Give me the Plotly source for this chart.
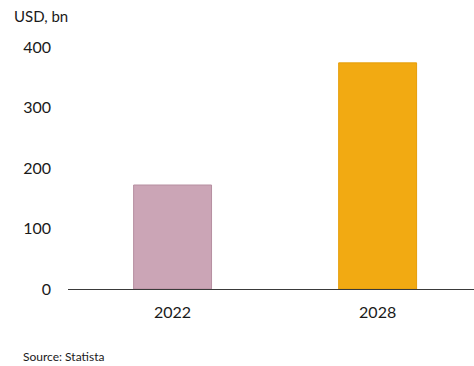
import plotly.graph_objects as go

# Market size, USD billion
years = ["2022", "2028"]
values = [172, 374]
bar_colors = ["#CBA5B6", "#F2AA12"]
line_colors = ["#B68FA0", "#E59E0A"]
y_ticks = [0, 100, 200, 300, 400]

W, H = 474, 366
ml, mr, mt, mb = 68, 0, 29, 77

fig = go.Figure(
    go.Bar(
        x=years,
        y=values,
        width=0.38,
        marker=dict(color=bar_colors, line=dict(color=line_colors, width=1)),
        hoverinfo="skip",
    )
)

fig.update_layout(
    width=W,
    height=H,
    margin=dict(l=ml, r=mr, t=mt, b=mb, pad=0),
    paper_bgcolor="white",
    plot_bgcolor="white",
    showlegend=False,
    font=dict(family="Lato, 'Open Sans', sans-serif", color="#1a1a1a"),
    xaxis=dict(
        type="category",
        range=[-0.51, 1.47],
        showgrid=False,
        showline=True,
        linecolor="#3a3a3a",
        linewidth=1,
        ticks="",
        tickfont=dict(size=16),
        ticklabelstandoff=9,
        fixedrange=True,
    ),
    yaxis=dict(
        range=[0, 430],
        tickvals=y_ticks,
        showgrid=False,
        zeroline=False,
        showline=False,
        ticks="",
        tickfont=dict(size=16),
        ticklabelstandoff=16,
        fixedrange=True,
    ),
    annotations=[
        dict(
            text="USD, bn",
            xref="paper", yref="paper",
            x=-ml / (W - ml - mr) + 12 / (W - ml - mr),
            y=1 + (mt - 16) / (H - mt - mb),
            xanchor="left", yanchor="middle",
            showarrow=False,
            font=dict(size=15),
        ),
        dict(
            text="Source: Statista",
            xref="paper", yref="paper",
            x=-ml / (W - ml - mr) + 21 / (W - ml - mr),
            y=-(356 - (H - mb)) / (H - mt - mb),
            xanchor="left", yanchor="middle",
            showarrow=False,
            font=dict(size=12),
        ),
    ],
)

fig.write_html("out.html")
